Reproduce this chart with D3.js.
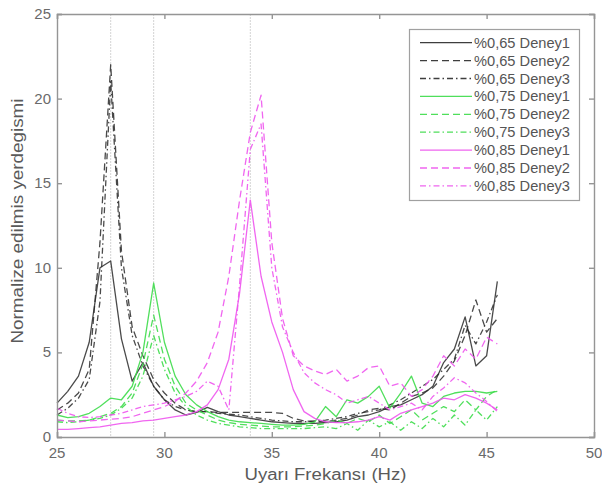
<!DOCTYPE html>
<html>
<head>
<meta charset="utf-8">
<script src="https://cdn.jsdelivr.net/npm/d3@7"></script>
<style>
  html, body { margin: 0; padding: 0; background: #fff; }
  svg { display: block; }
  text { font-family: "Liberation Sans", Arial, sans-serif; }
</style>
</head>
<body>
<div id="chart"></div>
<script>
// Excitation frequency (Hz)
const freq = [25, 25.5, 26, 26.5, 27, 27.5, 28, 28.5, 29, 29.5, 30, 30.5, 31, 31.5, 32, 32.5,
  33, 33.5, 34, 34.5, 35, 35.5, 36, 36.5, 37, 37.5, 38, 38.5, 39, 39.5, 40, 40.5, 41, 41.5,
  42, 42.5, 43, 43.5, 44, 44.5, 45, 45.5];

// Normalized displacement, %0,65 tests
const k65_1 = [2.0, 2.7, 3.6, 5.6, 10.0, 10.4, 5.8, 3.3, 4.4, 3.0, 2.2, 1.6, 1.3, 1.45, 1.75, 1.5,
  1.3, 1.2, 1.1, 1.0, 0.9, 0.85, 0.8, 0.8, 0.8, 0.85, 0.9, 1.0, 1.2, 1.3, 1.5, 1.8, 1.9, 2.2,
  2.5, 3.0, 4.4, 5.2, 7.1, 4.2, 4.8, 9.2];
const k65_2 = [1.6, 2.0, 2.6, 4.0, 11.5, 22.0, 11.0, 6.5, 4.8, 3.4, 2.6, 2.0, 1.6, 1.5, 1.5, 1.45,
  1.45, 1.45, 1.45, 1.45, 1.45, 1.4, 1.1, 0.95, 0.9, 0.9, 1.0, 1.1, 1.3, 1.6, 1.7, 1.6, 2.0, 2.4,
  2.6, 2.9, 3.6, 4.5, 6.0, 8.1, 6.2, 7.0];
const k65_3 = [1.3, 1.7, 2.3, 3.4, 8.0, 21.0, 10.0, 6.0, 4.2, 3.0, 2.2, 1.8, 1.6, 1.5, 1.5, 1.4,
  1.35, 1.3, 1.2, 1.1, 1.0, 0.95, 0.9, 0.9, 0.95, 1.0, 1.1, 1.2, 1.4, 1.5, 1.6, 1.9, 2.2, 2.6,
  3.0, 3.4, 4.0, 4.6, 6.6, 5.5, 6.8, 8.4];

// %0,75 tests
const g75_1 = [1.3, 1.15, 1.2, 1.4, 1.8, 2.3, 2.2, 3.0, 5.0, 9.1, 5.6, 3.6, 2.5, 1.9, 1.5, 1.2,
  1.0, 0.9, 0.85, 0.8, 0.75, 0.7, 0.7, 0.75, 0.9, 1.8, 1.2, 2.2, 2.0, 2.4, 3.0, 1.7, 2.6, 3.6,
  2.0, 1.8, 2.4, 2.6, 2.7, 2.7, 2.6, 2.7];
const g75_2 = [1.0, 0.95, 0.95, 1.0, 1.2, 1.4, 1.8, 2.6, 4.3, 7.2, 4.6, 3.0, 2.0, 1.6, 1.3, 1.0,
  0.85, 0.75, 0.7, 0.65, 0.6, 0.6, 0.6, 0.65, 0.7, 0.8, 1.0, 0.8, 1.1, 0.9, 1.3, 0.8, 1.2, 1.6,
  1.0, 1.4, 1.8, 1.5, 2.2, 1.6, 2.4, 2.8];
const g75_3 = [0.9, 0.85, 0.9, 1.0, 1.1, 1.3, 1.7, 2.3, 3.6, 6.0, 4.0, 2.6, 1.8, 1.3, 1.0, 0.8,
  0.7, 0.6, 0.55, 0.5, 0.5, 0.5, 0.5, 0.5, 0.55, 0.6, 0.5, 0.8, 0.4, 1.0, 0.6, 0.9, 0.4, 0.9,
  0.5, 1.1, 0.6, 1.3, 0.7, 1.6, 1.0, 1.8];

// %0,85 tests
const m85_1 = [0.45, 0.45, 0.5, 0.55, 0.6, 0.7, 0.8, 0.85, 0.95, 1.0, 1.1, 1.2, 1.3, 1.5, 1.9, 2.8,
  4.6, 8.5, 14.0, 9.5, 6.8, 5.0, 2.8, 1.5, 1.1, 0.9, 0.85, 0.85, 0.9, 1.0, 1.2, 1.0, 1.4, 1.6,
  1.8, 2.0, 2.3, 2.2, 2.5, 2.3, 2.0, 1.6];
const m85_2 = [1.0, 0.95, 0.9, 0.95, 1.0, 1.05, 1.1, 1.2, 1.4, 1.6, 1.8, 2.1, 2.6, 3.3, 4.4, 6.2,
  9.5, 14.0, 18.0, 20.2, 11.5, 7.0, 4.8, 4.2, 3.9, 3.7, 4.0, 3.3, 3.6, 4.1, 4.2, 3.0, 3.2, 2.4,
  2.8, 3.6, 4.8, 4.2, 5.2, 4.6, 5.9, 5.5];
const m85_3 = [1.7, 1.4, 1.2, 1.15, 1.2, 1.3, 1.4, 1.6, 1.8, 1.9, 2.0, 2.2, 2.4, 2.7, 3.3, 3.0,
  1.6, 9.0, 17.0, 18.5, 10.0, 6.5, 5.0, 3.8, 3.2, 2.8, 2.5, 2.0, 2.2, 2.4, 2.0, 1.6, 1.8, 2.0,
  1.6, 2.4, 2.9, 3.5, 3.2, 2.6, 2.1, 1.5];

// Resonance frequencies marked with reference lines
const resonance = [27.5, 29.5, 34];

const seriesNames = ["%0,65 Deney1", "%0,65 Deney2", "%0,65 Deney3",
  "%0,75 Deney1", "%0,75 Deney2", "%0,75 Deney3",
  "%0,85 Deney1", "%0,85 Deney2", "%0,85 Deney3"];
const seriesValues = [k65_1, k65_2, k65_3, g75_1, g75_2, g75_3, m85_1, m85_2, m85_3];

const xTicks = [25, 30, 35, 40, 45, 50];
const yTicks = [0, 5, 10, 15, 20, 25];

// Styling
const colors = ["#2a2a2a", "#2a2a2a", "#2a2a2a",
  "#3ddc4a", "#3ddc4a", "#3ddc4a",
  "#ee55ee", "#ee55ee", "#ee55ee"];
const dashes = ["none", "7,4", "6,3,1.5,3"];

const W = 602, H = 491;
const pLeft = 57, pRight = 594, pTop = 14, pBottom = 437;

const svg = d3.select("#chart").append("svg")
  .attr("width", W).attr("height", H);

const x = d3.scaleLinear().domain([25, 50]).range([pLeft, pRight]);
const y = d3.scaleLinear().domain([0, 25]).range([pBottom, pTop]);

// resonance reference lines
svg.append("g").selectAll("line").data(resonance).join("line")
  .attr("x1", d => x(d)).attr("x2", d => x(d))
  .attr("y1", pTop).attr("y2", pBottom)
  .attr("stroke", "#d4d4d4").attr("stroke-width", 1)
  .attr("stroke-dasharray", "2,1");

// data lines
const line = d3.line()
  .x((d, i) => x(freq[i]))
  .y(d => y(d));

svg.append("g").selectAll("path").data(seriesValues).join("path")
  .attr("d", d => line(d))
  .attr("fill", "none")
  .attr("stroke", (d, i) => colors[i])
  .attr("stroke-width", 1.3)
  .attr("stroke-linejoin", "round")
  .attr("stroke-dasharray", (d, i) => dashes[i % 3])
  .attr("opacity", (d, i) => i < 3 ? 0.85 : 0.9);

// axes box with inward ticks on all four sides
const axisColor = "#959595";
const tickSize = -5;
svg.append("g").attr("transform", `translate(0,${pBottom})`)
  .call(d3.axisBottom(x).tickValues(xTicks).tickSize(tickSize).tickFormat(""));
svg.append("g").attr("transform", `translate(0,${pTop})`)
  .call(d3.axisTop(x).tickValues(xTicks).tickSize(tickSize).tickFormat(""));
svg.append("g").attr("transform", `translate(${pLeft},0)`)
  .call(d3.axisLeft(y).tickValues(yTicks).tickSize(tickSize).tickFormat(""));
svg.append("g").attr("transform", `translate(${pRight},0)`)
  .call(d3.axisRight(y).tickValues(yTicks).tickSize(tickSize).tickFormat(""));
svg.selectAll(".domain, .tick line")
  .attr("stroke", axisColor).attr("stroke-width", 1.4);

// tick labels
svg.append("g").selectAll("text").data(xTicks).join("text")
  .attr("x", d => x(d)).attr("y", 458)
  .attr("text-anchor", "middle")
  .attr("font-size", 15).attr("fill", "#6a6a6a")
  .text(d => d);
svg.append("g").selectAll("text").data(yTicks).join("text")
  .attr("x", 51).attr("y", d => y(d) + 5)
  .attr("text-anchor", "end")
  .attr("font-size", 15).attr("fill", "#6a6a6a")
  .text(d => d);

// axis titles
svg.append("text")
  .attr("x", (pLeft + pRight) / 2).attr("y", 480)
  .attr("text-anchor", "middle")
  .attr("font-size", 16).attr("fill", "#5a5a5a")
  .attr("textLength", 162).attr("lengthAdjust", "spacingAndGlyphs")
  .text("Uyarı Frekansı (Hz)");
svg.append("text")
  .attr("transform", "translate(23,221) rotate(-90)")
  .attr("text-anchor", "middle")
  .attr("font-size", 16).attr("fill", "#5a5a5a")
  .attr("textLength", 245).attr("lengthAdjust", "spacingAndGlyphs")
  .text("Normalize edilmis yerdegismi");

// legend
const lg = svg.append("g");
lg.append("rect")
  .attr("x", 409.5).attr("y", 29.5).attr("width", 170).attr("height", 171)
  .attr("fill", "#fff").attr("stroke", "#a0a0a0").attr("stroke-width", 1.2);
const rows = lg.selectAll("g.row").data(seriesNames).join("g")
  .attr("class", "row")
  .attr("transform", (d, i) => `translate(0,${42.7 + i * 17.9})`);
rows.append("line")
  .attr("x1", 420).attr("x2", 472).attr("y1", 0).attr("y2", 0)
  .attr("stroke", (d, i) => colors[i])
  .attr("stroke-width", 1.3)
  .attr("stroke-dasharray", (d, i) => dashes[i % 3])
  .attr("opacity", 0.9);
rows.append("text")
  .attr("x", 474).attr("y", 5)
  .attr("font-size", 14).attr("fill", "#555")
  .attr("textLength", 96).attr("lengthAdjust", "spacingAndGlyphs")
  .text(d => d);
</script>
</body>
</html>
